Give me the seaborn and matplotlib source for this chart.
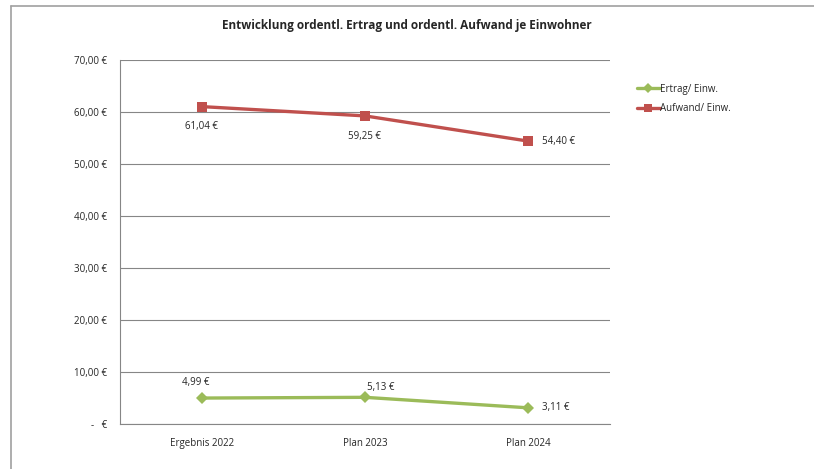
import matplotlib
matplotlib.use('Agg')
import matplotlib.pyplot as plt
import seaborn as sns
import pandas as pd
from matplotlib.lines import Line2D
from matplotlib.ticker import FuncFormatter, FixedLocator

categories = ['Ergebnis 2022', 'Plan 2023', 'Plan 2024']
ertrag = [4.99, 5.13, 3.11]
aufwand = [61.04, 59.25, 54.40]
series_names = ['Ertrag/ Einw.', 'Aufwand/ Einw.']

df = pd.DataFrame({
    'Jahr': categories * 2,
    'Wert': ertrag + aufwand,
    'Reihe': [series_names[0]] * 3 + [series_names[1]] * 3,
})

sns.set_style('white')
plt.rcParams['font.family'] = ['Open Sans', 'DejaVu Sans']

green = '#9BBB59'
red = '#C0504D'
grid_c = '#868686'

fig = plt.figure(figsize=(8.14, 4.69), dpi=100)
ax = fig.add_axes([120 / 814, 1 - 424 / 469, 490 / 814, 364 / 469])

sns.lineplot(data=df, x='Jahr', y='Wert', hue='Reihe', style='Reihe',
             markers={series_names[0]: 'D', series_names[1]: 's'}, dashes=False,
             palette={series_names[0]: green, series_names[1]: red},
             linewidth=2.4, markersize=6.5, markeredgewidth=0, ax=ax, legend=False, zorder=3)

ax.set_xlim(-0.5, 2.5)
ax.set_ylim(0, 70)
ax.set_yticks(range(0, 71, 10))
ax.yaxis.set_major_formatter(FuncFormatter(
    lambda v, p: '-   €' if v == 0 else f'{v:.2f} €'.replace('.', ',')))
ax.grid(axis='y', color=grid_c, linewidth=0.8)
ax.grid(axis='x', visible=False)
for s in ['top', 'right']:
    ax.spines[s].set_visible(False)
for s in ['left', 'bottom']:
    ax.spines[s].set_color(grid_c)
    ax.spines[s].set_linewidth(0.8)
ax.set_xlabel('')
ax.set_ylabel('')
ax.tick_params(axis='y', which='major', length=5, color=grid_c, labelsize=7, pad=4)
ax.tick_params(axis='x', which='major', length=0, labelsize=7, pad=10)
ax.xaxis.set_minor_locator(FixedLocator([-0.5, 0.5, 1.5, 2.5]))
ax.tick_params(axis='x', which='minor', length=5, color=grid_c)

# data labels
def fmt(v):
    return f'{v:.2f} €'.replace('.', ',')

red_off = [(0, -14), (0, -15), (10, 0)]
green_off = [(-4.5, 11), (1.5, 7), (10, 0)]
for i, v in enumerate(aufwand):
    ax.annotate(fmt(v), (i, v), xytext=red_off[i], textcoords='offset points',
                ha='left' if red_off[i][0] > 0 else 'center', va='center', fontsize=7)
for i, v in enumerate(ertrag):
    ax.annotate(fmt(v), (i, v), xytext=green_off[i], textcoords='offset points',
                ha='left' if green_off[i][0] > 0 else 'center', va='center', fontsize=7)

# legend
handles = [Line2D([], [], color=green, marker='D', lw=2.4, ms=5.5, mew=0),
           Line2D([], [], color=red, marker='s', lw=2.4, ms=5.5, mew=0)]
fig.legend(handles, series_names, loc='upper left', bbox_to_anchor=(628 / 814, 1 - 75 / 469),
           frameon=False, fontsize=7, handlelength=2.4, handletextpad=0.0, labelspacing=0.9)

fig.suptitle('Entwicklung ordentl. Ertrag und ordentl. Aufwand je Einwohner',
             x=0.5, y=1 - 25 / 469, fontsize=8.5, fontweight='bold', va='center')

# chart frame (left and top edges)
fig.add_artist(Line2D([11 / 814, 11 / 814], [0, 1 - 6 / 469], color='#A0A0A0', lw=1.2,
                      transform=fig.transFigure))
fig.add_artist(Line2D([11 / 814, 1], [1 - 6 / 469, 1 - 6 / 469], color='#A0A0A0', lw=1.2,
                      transform=fig.transFigure))

fig.savefig('out.png', dpi=100)
